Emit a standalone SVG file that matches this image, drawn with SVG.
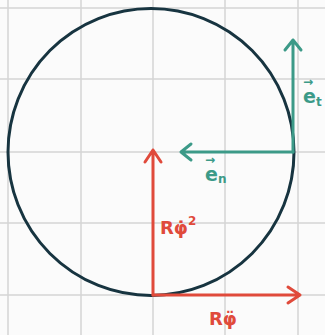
<svg xmlns="http://www.w3.org/2000/svg" width="325" height="335" viewBox="0 0 325 335">
<style>
.grid{stroke:#d4d4d4;stroke-width:1.5}
.circ{fill:none;stroke:#173440;stroke-width:3}
.g{stroke:#3c9a88;stroke-width:3;fill:none;stroke-linecap:round;stroke-linejoin:round}
.r{stroke:#e04a3b;stroke-width:3;fill:none;stroke-linecap:round;stroke-linejoin:round}
.gt{fill:#3c9a88;font-family:"DejaVu Sans",sans-serif;font-weight:bold;font-size:19px}
.ga{fill:#3c9a88;font-family:"DejaVu Sans",sans-serif;font-weight:bold;font-size:12px}
.rt{fill:#e04a3b;font-family:"DejaVu Sans",sans-serif;font-weight:bold;font-size:18px}
</style>
<rect width="325" height="335" fill="#fbfbfb"/>
<g id="grid">
<line class="grid" x1="8" y1="0" x2="8" y2="335"/>
<line class="grid" x1="81" y1="0" x2="81" y2="335"/>
<line class="grid" x1="153" y1="0" x2="153" y2="335"/>
<line class="grid" x1="225" y1="0" x2="225" y2="335"/>
<line class="grid" x1="298" y1="0" x2="298" y2="335"/>
<line class="grid" x1="0" y1="8" x2="325" y2="8"/>
<line class="grid" x1="0" y1="79" x2="325" y2="79"/>
<line class="grid" x1="0" y1="152" x2="325" y2="152"/>
<line class="grid" x1="0" y1="223" x2="325" y2="223"/>
<line class="grid" x1="0" y1="295" x2="325" y2="295"/>
</g>
<g id="circle"><ellipse class="circ" cx="151" cy="152" rx="143" ry="143.5"/></g>
<g id="connectors">
<path class="g" d="M293 152 V40 M285 50 L293 40 L301 50"/>
<path class="g" d="M293 152 H181 M191 144 L181 152 L191 160"/>
<path class="r" d="M153 295 V150 M145 162 L153 150 L161 162"/>
<path class="r" d="M153 295 H300 M288 287 L300 295 L288 303"/>
</g>
<g id="label-et"><text class="ga" x="303" y="86">→</text><text class="gt" x="303" y="103">e<tspan font-size="12" dy="3">t</tspan></text></g>
<g id="label-en"><text class="ga" x="205" y="164">→</text><text class="gt" x="205" y="181">e<tspan font-size="12" dy="2">n</tspan></text></g>
<g id="label-rphi2"><text class="rt" x="160" y="234">Rφ̇<tspan font-size="12" dy="-9">2</tspan></text></g>
<g id="label-rphidd"><text class="rt" x="209" y="325">Rφ̈</text></g>
</svg>
